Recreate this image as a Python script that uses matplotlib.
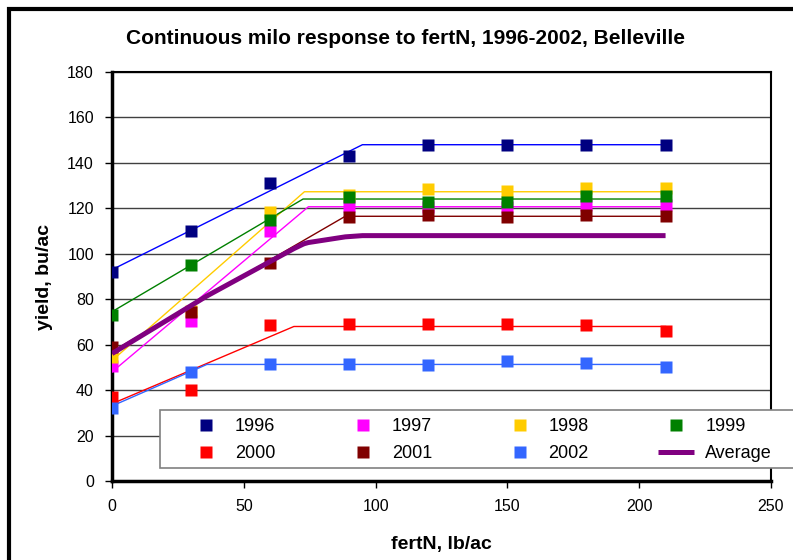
import numpy as np
import matplotlib
matplotlib.use("Agg")
import matplotlib.pyplot as plt
from matplotlib.patches import Rectangle

plt.rcParams['font.family'] = ['Liberation Sans', 'DejaVu Sans']

# observed yields, bu/ac
fert = [0, 30, 60, 90, 120, 150, 180, 210]
years = ['1996', '1997', '1998', '1999', '2000', '2001', '2002']
y1996 = [92, 110, 131, 143, 148, 148, 148, 148]
y1997 = [50.5, 70.5, 110, 121, 120.5, 120.5, 121.5, 121.5]
y1998 = [54.5, 75, 118.5, 126, 128.5, 127.5, 129, 129]
y1999 = [73, 95, 115, 125, 123, 123, 125.5, 125.5]
y2000 = [37, 40, 68.5, 69, 69, 69, 68.5, 66]
y2001 = [59, 74.5, 96, 116, 117, 116, 117, 116.5]
y2002 = [32, 48, 51.5, 51.5, 51, 53, 52, 50]

# linear-plateau fits: intercept at 0, join point, plateau
fit_intercept = [93, 48, 53, 74.5, 34, 57, 33]
fit_join = [95, 74.5, 73, 72.5, 69, 88.5, 36]
fit_plateau = [148, 120.7, 127.3, 124.1, 68, 116.5, 51.3]
fit_end = 210

marker_colors = ['#000080', '#FF00FF', '#FFCC00', '#008000', '#FF0000', '#800000', '#3366FF']
line_colors = ['#0000FF', '#FF00FF', '#FFCC00', '#008000', '#FF0000', '#800000', '#3366FF']


def fit_line(i):
    xs = [0, fit_join[i], fit_end]
    ys = [fit_intercept[i], fit_plateau[i], fit_plateau[i]]
    return xs, ys


def main():
    obs = [y1996, y1997, y1998, y1999, y2000, y2001, y2002]
    fig = plt.figure(figsize=(7.93, 5.60), dpi=100)
    W, H = 793, 560
    ax = fig.add_axes([112 / W, 1 - 481 / H, (771 - 112) / W, (481 - 72) / H])

    handles = []
    for i, yr in enumerate(years):
        xs, ys = fit_line(i)
        ax.plot(xs, ys, color=line_colors[i], lw=1.0, zorder=3)
        h, = ax.plot(fert, obs[i], ls='none', marker='s', ms=8.2, mec='none',
                     color=marker_colors[i], label=yr, zorder=4)
        handles.append(h)

    # average of the fitted lines, evaluated at every join point
    knots = np.unique([0, fit_end] + fit_join)
    avg = np.mean([np.interp(knots, *fit_line(i)) for i in range(len(years))], axis=0)
    h, = ax.plot(knots, avg, color='#800080', lw=3.6, label='Average', zorder=5,
                 solid_capstyle='butt')
    handles.append(h)

    ax.set_xlim(0, 250)
    ax.set_ylim(0, 180)
    ax.set_xticks(range(0, 251, 50))
    ax.set_yticks(range(0, 181, 20))
    ax.yaxis.grid(True, color='#404040', lw=1.0)
    ax.set_axisbelow(True)
    ax.tick_params(direction='out', length=5, width=1, labelsize=11.5, pad=8)
    for side in ['left', 'bottom']:
        ax.spines[side].set_linewidth(2.5)
    for side in ['top', 'right']:
        ax.spines[side].set_linewidth(1.5)

    ax.set_xlabel('fertN, lb/ac', fontsize=14, fontweight='bold', labelpad=16)
    ax.set_ylabel('yield, bu/ac', fontsize=14, fontweight='bold', labelpad=10)
    fig.text(406 / W, 1 - 39 / H, 'Continuous milo response to fertN, 1996-2002, Belleville',
             ha='center', va='center', fontsize=15, fontweight='bold')

    # legend frame drawn by hand, entries placed row by row
    fig.patches.append(Rectangle((160 / W, 1 - 468 / H), (800 - 160) / W, (468 - 410) / H,
                                 transform=fig.transFigure, facecolor='white',
                                 edgecolor='#808080', lw=1.2, zorder=9))
    order = [0, 4, 1, 5, 2, 6, 3, 7]
    leg = fig.legend([handles[k] for k in order], [handles[k].get_label() for k in order],
                     ncol=4, loc='upper left', bbox_to_anchor=(188 / W, 1 - 418 / H),
                     fontsize=13, frameon=False, handlelength=2.0, handletextpad=0.6,
                     columnspacing=3.85, borderpad=0, borderaxespad=0, labelspacing=0.55)
    leg.set_zorder(10)

    # outer chart border, only left and top edges show
    fig.patches.append(Rectangle((9 / W, -0.1), 1.2, 1 - 9 / H + 0.1, transform=fig.transFigure,
                                 fill=False, edgecolor='black', lw=3))

    fig.savefig('out.png', dpi=100)


if __name__ == '__main__':
    main()
